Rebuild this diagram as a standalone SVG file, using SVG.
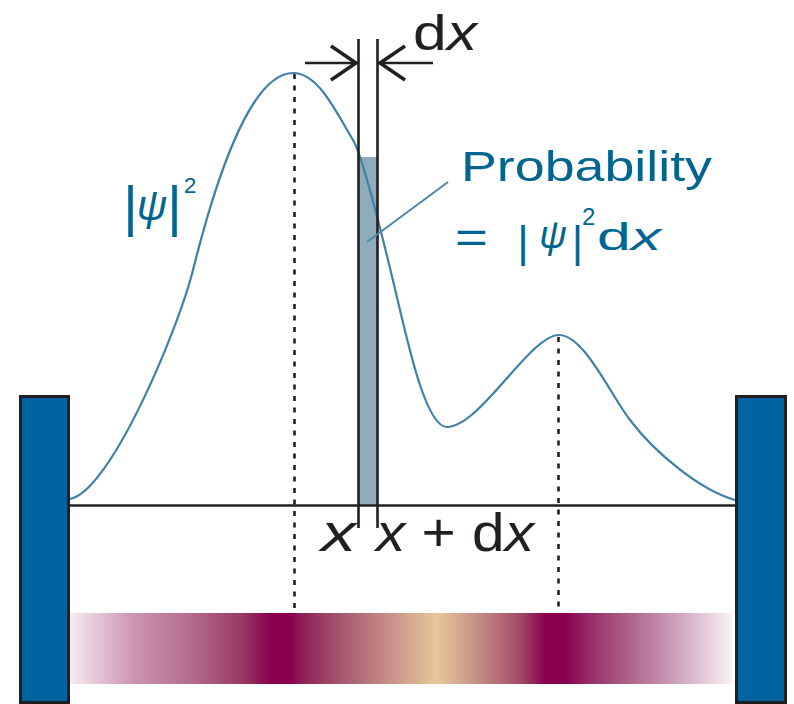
<svg xmlns="http://www.w3.org/2000/svg" width="794" height="704" viewBox="0 0 794 704">
<defs>
<style>
.blk{stroke:#231f20;fill:none}
.wall{fill:#0064a2;stroke:#231f20;stroke-width:3}
.dash{stroke:#231f20;stroke-width:2.6;stroke-dasharray:5 6.5;fill:none}
.t{font-family:"Liberation Sans",Arial,sans-serif}
.bl{fill:#006591}
.k{fill:#231f20}
</style>
<linearGradient id="band" gradientUnits="userSpaceOnUse" x1="67" y1="0" x2="732" y2="0">
<stop offset="0" stop-color="#f7eff3"/>
<stop offset="0.1" stop-color="#cc95b2"/>
<stop offset="0.2" stop-color="#b06485"/>
<stop offset="0.268" stop-color="#973563"/>
<stop offset="0.305" stop-color="#8a0050"/>
<stop offset="0.338" stop-color="#8a0050"/>
<stop offset="0.35" stop-color="#8e1a55"/>
<stop offset="0.41" stop-color="#a4566f"/>
<stop offset="0.486" stop-color="#c89088"/>
<stop offset="0.556" stop-color="#e6c89a"/>
<stop offset="0.621" stop-color="#c38a84"/>
<stop offset="0.681" stop-color="#a24b66"/>
<stop offset="0.719" stop-color="#8a0050"/>
<stop offset="0.749" stop-color="#8a0050"/>
<stop offset="0.8" stop-color="#9a3c6e"/>
<stop offset="0.892" stop-color="#c28aab"/>
<stop offset="1" stop-color="#f8f1f5"/>
</linearGradient>
</defs>
<rect width="794" height="704" fill="#ffffff"/>

<g id="density-band">
<rect x="67" y="613" width="665" height="71" fill="url(#band)"/>
</g>

<g id="strip">
<rect x="359" y="157" width="19" height="348" fill="#8eacbb"/>
</g>

<g id="dashes">
<line class="dash" x1="294.5" y1="74" x2="294.5" y2="612"/>
<line class="dash" x1="558.5" y1="337" x2="558.5" y2="612"/>
</g>

<g id="baseline">
<line class="blk" x1="69" y1="505.5" x2="736" y2="505.5" stroke-width="2.6"/>
</g>

<g id="curve">
<path d="M70,499 C110,492 178,330 193,270 C212,194 248,73 293,73 C318,73 335,110 353,140 C365,160 390,268 400,310 C410,352 427,427 447,427 C480,427 530,335 559,335 C584,335 610,394 630,420 C655,453 700,490 735,500" fill="none" stroke="#3f80a8" stroke-width="2.2"/>
</g>

<g id="connectors">
<line class="blk" x1="358.5" y1="39" x2="358.5" y2="528" stroke-width="2.6"/>
<line class="blk" x1="377.5" y1="39" x2="377.5" y2="528" stroke-width="2.6"/>
<line class="blk" x1="305" y1="63" x2="357" y2="63" stroke-width="2.6"/>
<polyline class="blk" points="331,46 356,63 331,80" stroke-width="3.5"/>
<line class="blk" x1="379" y1="63" x2="433" y2="63" stroke-width="2.6"/>
<polyline class="blk" points="405,46 380,63 405,80" stroke-width="3.5"/>
<line x1="367" y1="242" x2="448" y2="182" stroke="#4d86a6" stroke-width="2"/>
</g>

<g id="left-wall"><rect class="wall" x="20.5" y="396.5" width="48" height="306"/></g>
<g id="right-wall"><rect class="wall" x="736.5" y="396.5" width="49" height="306"/></g>

<g id="label-dx-top">
<text class="t k" x="413" y="50" font-size="50" textLength="64" lengthAdjust="spacingAndGlyphs">d<tspan font-style="italic">x</tspan></text>
</g>

<g id="label-psi">
<text class="t bl" x="130.5" y="225" font-size="56" text-anchor="middle">|</text>
<text class="t bl" x="152" y="220" font-size="42" font-style="italic" text-anchor="middle">ψ</text>
<text class="t bl" x="174.5" y="225" font-size="56" text-anchor="middle">|</text>
<text class="t bl" x="184" y="193" font-size="22">2</text>
</g>

<g id="label-probability">
<text class="t bl" x="461" y="181" font-size="43" textLength="251" lengthAdjust="spacingAndGlyphs">Probability</text>
<text class="t bl" x="455" y="253" font-size="44" textLength="33" lengthAdjust="spacingAndGlyphs">=</text>
<text class="t bl" x="523" y="257" font-size="44" text-anchor="middle">|</text>
<text class="t bl" x="553" y="248" font-size="38" font-style="italic" text-anchor="middle">ψ</text>
<text class="t bl" x="577.5" y="257" font-size="44" text-anchor="middle">|</text>
<text class="t bl" x="582" y="225" font-size="24">2</text>
<text class="t bl" x="597" y="250" font-size="38" textLength="64" lengthAdjust="spacingAndGlyphs">d<tspan font-style="italic">x</tspan></text>
</g>

<g id="label-x">
<text class="t k" x="321" y="551" font-size="54" font-style="italic" textLength="35" lengthAdjust="spacingAndGlyphs">x</text>
</g>
<g id="label-x-dx">
<text class="t k" x="376" y="551" font-size="54" textLength="158" lengthAdjust="spacingAndGlyphs"><tspan font-style="italic">x</tspan> + d<tspan font-style="italic">x</tspan></text>
</g>
</svg>
